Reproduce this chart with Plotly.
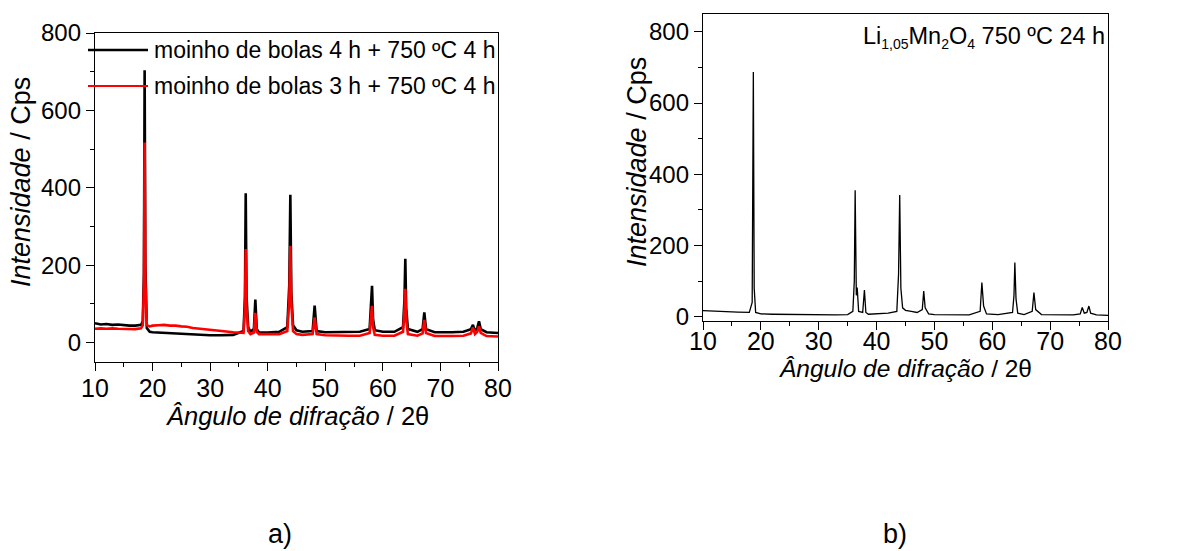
import plotly.graph_objects as go

# ---------------- data ----------------
# panel a) shared 2-theta grid
two_theta_a = [10, 11, 12, 13, 14, 15, 16, 17, 18,
               18.3, 18.5, 18.62, 18.75, 19.0, 19.5,
               20, 21, 22, 23, 24, 25, 26, 27, 28,
               30, 32, 34,
               35.8, 36.05, 36.18, 36.32, 36.6,
               37.0, 37.6, 37.85, 38.1, 38.5,
               40, 42,
               43.4, 43.75, 43.93, 44.1, 44.4,
               45, 46,
               47.8, 48.15, 48.5,
               50, 52, 54, 56,
               57.7, 57.95, 58.12, 58.3, 58.6,
               60, 62,
               63.5, 63.75, 63.9, 64.05, 64.35,
               66, 66.9, 67.2, 67.5,
               69, 72, 74,
               75.3, 75.65, 76.0, 76.4, 76.7, 77.0,
               78, 80]

intensity_4h = [50, 47, 48, 46, 47, 45, 44, 44, 46,
                55, 180, 704, 200, 38, 28,
                27, 26, 25, 24, 24, 23, 22, 22, 21,
                19, 19, 20,
                30, 120, 386, 120, 40,
                28, 35, 111, 35, 26,
                26, 28,
                40, 150, 382, 130, 45,
                32, 28,
                30, 96, 30,
                27, 27, 28, 28,
                35, 100, 147, 60, 32,
                28, 28,
                40, 110, 217, 90, 35,
                28, 35, 78, 35,
                27, 27, 28,
                35, 46, 30, 38, 55, 35,
                27, 25]

intensity_3h = [36, 37, 36, 37, 36, 36, 35, 35, 37,
                45, 150, 517, 160, 45, 42,
                44, 45, 46, 44, 44, 42, 41, 38, 36,
                33, 30, 27,
                25, 90, 242, 90, 30,
                22, 26, 77, 28, 22,
                22, 22,
                30, 110, 250, 100, 30,
                22, 20,
                22, 65, 22,
                19, 18, 18, 18,
                25, 70, 95, 40, 20,
                18, 18,
                28, 80, 139, 60, 22,
                18, 24, 59, 25,
                17, 17, 18,
                24, 39, 22, 28, 42, 25,
                17, 16]

# panel b)
two_theta_b = [10, 12, 14, 16, 18,
               18.5, 18.7, 18.85, 19.1,
               20, 22, 25, 28, 30, 33, 35,
               35.9, 36.15, 36.3, 36.5, 36.65, 36.9,
               37.6, 37.9, 38.15, 38.6,
               40, 42,
               43.5, 43.8, 44.0, 44.2, 44.5,
               45, 46, 47,
               47.9, 48.15, 48.4, 49,
               50, 53, 56,
               57.9, 58.2, 58.5, 59,
               61,
               63.5, 63.75, 63.9, 64.1, 64.4,
               65.5,
               66.9, 67.2, 67.5, 68.5,
               71, 74,
               75.2, 75.55, 75.9, 76.35, 76.7, 77.0,
               78, 80]

intensity_24h = [17, 15, 14, 13, 12,
                 40, 687, 80, 12,
                 8, 7, 6, 5, 5, 5, 6,
                 15, 100, 355, 60, 82, 15,
                 12, 75, 12, 7,
                 8, 10,
                 15, 120, 342, 80, 25,
                 18, 15, 12,
                 20, 72, 25, 8,
                 6, 5, 5,
                 15, 96, 30, 8,
                 6,
                 12, 60, 152, 50, 10,
                 6,
                 15, 68, 20, 6,
                 5, 5,
                 8, 26, 10, 12, 30, 10,
                 5, 4]

assert len(two_theta_a) == len(intensity_4h) == len(intensity_3h)
assert len(two_theta_b) == len(intensity_24h)

legend_labels = ["moinho de bolas 4 h + 750 ºC 4 h",
                 "moinho de bolas 3 h + 750 ºC 4 h"]
y_ticks = [0, 200, 400, 600, 800]
x_ticks = [10, 20, 30, 40, 50, 60, 70, 80]

BLACK = "#000000"
RED = "#ff0000"
FONT = "Liberation Sans, Arial, sans-serif"
W, H = 1196, 551

fig = go.Figure()
fig.add_trace(go.Scatter(x=two_theta_a, y=intensity_4h, mode="lines",
                         line=dict(color=BLACK, width=2.6), name=legend_labels[0],
                         showlegend=False, xaxis="x", yaxis="y"))
fig.add_trace(go.Scatter(x=two_theta_a, y=intensity_3h, mode="lines",
                         line=dict(color=RED, width=2.6), name=legend_labels[1],
                         showlegend=False, xaxis="x", yaxis="y"))
fig.add_trace(go.Scatter(x=two_theta_b, y=intensity_24h, mode="lines",
                         line=dict(color=BLACK, width=1.3), name="Li1,05Mn2O4",
                         showlegend=False, xaxis="x2", yaxis="y2"))


def px_x(p):
    return p / W


def px_y(p):
    return 1 - p / H


axis_common = dict(showline=True, linecolor=BLACK, linewidth=1.3, mirror=True,
                   ticks="outside", ticklen=8, tickwidth=1.3, tickcolor=BLACK,
                   showgrid=False, zeroline=False, automargin=False)
yfont = dict(family=FONT, size=24, color=BLACK)
xfont = dict(family=FONT, size=25, color=BLACK)

fig.update_layout(
    width=W, height=H,
    margin=dict(l=0, r=0, t=0, b=0, pad=0, autoexpand=False),
    paper_bgcolor="white", plot_bgcolor="white", showlegend=False,
    xaxis=dict(domain=[px_x(95), px_x(498)], range=[10, 80], tickvals=x_ticks,
               minor=dict(ticks="outside", ticklen=4, dtick=5, tickcolor=BLACK),
               anchor="y", tickfont=xfont, ticklabelstandoff=-4, **axis_common),
    yaxis=dict(domain=[px_y(362), px_y(33)], range=[-50, 800], tickvals=y_ticks,
               minor=dict(ticks="outside", ticklen=4, dtick=100, tickcolor=BLACK),
               anchor="x", tickfont=yfont, **axis_common),
    xaxis2=dict(domain=[px_x(703), px_x(1108)], range=[10, 80], tickvals=x_ticks,
                minor=dict(ticks="outside", ticklen=4, dtick=5, tickcolor=BLACK),
                anchor="y2", tickfont=xfont, ticklabelstandoff=-10, **axis_common),
    yaxis2=dict(domain=[px_y(321), px_y(14)], range=[-12, 850], tickvals=y_ticks,
                minor=dict(ticks="outside", ticklen=4, dtick=100, tickcolor=BLACK),
                anchor="x2", tickfont=yfont, **axis_common),
)


def f(size):
    return dict(family=FONT, size=size, color=BLACK)


ann = []
# axis titles
ann.append(dict(text="<i>Intensidade</i> / Cps", x=px_x(21), y=px_y(182),
                textangle=-90, font=f(27)))
ann.append(dict(text="<i>Ângulo de difração</i> / 2θ", x=px_x(297), y=px_y(416),
                font=f(25.5)))
ann.append(dict(text="<i>Intensidade</i> / Cps", x=px_x(637), y=px_y(162),
                textangle=-90, font=f(27)))
ann.append(dict(text="<i>Ângulo de difração</i> / 2θ", x=px_x(905), y=px_y(368),
                font=f(24.5)))
# panel labels
ann.append(dict(text="a)", x=px_x(280), y=px_y(534), font=f(27)))
ann.append(dict(text="b)", x=px_x(895), y=px_y(534), font=f(27)))
for a in ann:
    a.update(xref="paper", yref="paper", showarrow=False,
             xanchor="center", yanchor="middle")
# sample label panel b
sub = '<sub><span style="font-size:14px">{}</span></sub>'
ann.append(dict(text="Li" + sub.format("1,05") + "Mn" + sub.format("2") + "O"
                + sub.format("4") + " 750 ºC 24 h",
                x=px_x(1107), y=px_y(37), xref="paper", yref="paper",
                xanchor="right", yanchor="middle", showarrow=False, font=f(23.5)))
# legend (panel a)
legend_rows = [(50, BLACK, 2.6), (86, RED, 2.0)]
shapes = []
for (ypix, col, lw), lab in zip(legend_rows, legend_labels):
    shapes.append(dict(type="line", xref="paper", yref="paper",
                       x0=px_x(88), x1=px_x(148), y0=px_y(ypix), y1=px_y(ypix),
                       line=dict(color=col, width=lw)))
    ann.append(dict(text=lab, x=px_x(152), y=px_y(ypix), xref="paper", yref="paper",
                    xanchor="left", yanchor="middle", showarrow=False, font=f(23)))

fig.update_layout(annotations=ann, shapes=shapes)
fig.write_html("out.html")
